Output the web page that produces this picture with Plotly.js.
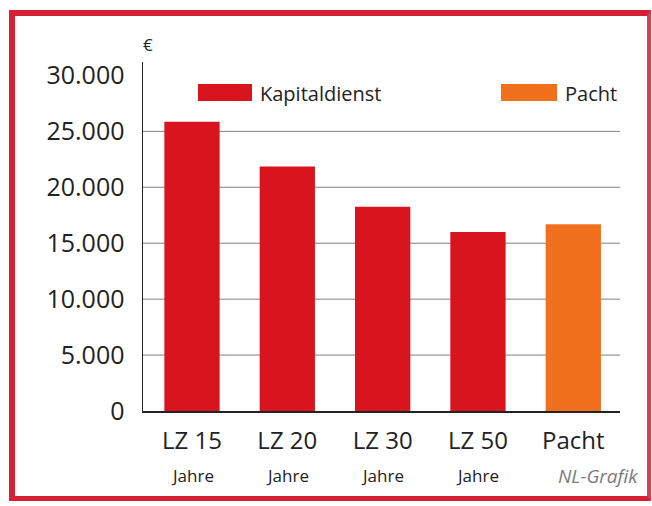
<!DOCTYPE html>
<html>
<head>
<meta charset="utf-8">
<script src="https://cdn.plot.ly/plotly-3.0.1.min.js"></script>
<style>
  html, body { margin: 0; padding: 0; background: #ffffff; }
  #wrap { position: relative; width: 652px; height: 506px; }
  #chart { width: 652px; height: 506px; }
  #frame { position: absolute; left: 9px; top: 10px; width: 632px; height: 480px;
           border-left: 6px solid #d52035; border-top: 6px solid #d52035;
           border-right: 4px solid #d84050; border-bottom: 5px solid #d52035;
           pointer-events: none; }
</style>
</head>
<body>
<div id="wrap">
  <div id="chart"></div>
  <div id="frame"></div>
</div>
<script>
// Data
const categories = ["LZ 15", "LZ 20", "LZ 30", "LZ 50", "Pacht"];
const subLabels = ["Jahre", "Jahre", "Jahre", "Jahre", ""];
const kapitaldienstCats = ["LZ 15", "LZ 20", "LZ 30", "LZ 50"];
const kapitaldienstValues = [25850, 21850, 18250, 16000];
const pachtCats = ["Pacht"];
const pachtValues = [16700];
const yTickVals = [0, 5000, 10000, 15000, 20000, 25000, 30000];
const yTickText = ["0", "5.000", "10.000", "15.000", "20.000", "25.000", "30.000"];
const gridVals = [5000, 10000, 15000, 20000, 25000];
const legendNames = ["Kapitaldienst", "Pacht"];

const RED = "#d8151f";
const ORANGE = "#f0701e";
const FONT = "Open Sans, Liberation Sans, sans-serif";

const traces = [
  { type: "bar", name: legendNames[0], x: kapitaldienstCats, y: kapitaldienstValues,
    marker: { color: RED }, showlegend: false, hoverinfo: "x+y" },
  { type: "bar", name: legendNames[1], x: pachtCats, y: pachtValues,
    marker: { color: ORANGE }, showlegend: false, hoverinfo: "x+y" }
];

const annotations = [];
subLabels.forEach((t, i) => {
  if (!t) return;
  annotations.push({ x: categories[i], y: -0.185, xref: "x", yref: "paper",
    text: t, showarrow: false, xanchor: "center", yanchor: "middle",
    font: { family: FONT, size: 17, color: "#222222" } });
});
annotations.push({ x: 1.042, y: -0.185, xref: "paper", yref: "paper",
  text: "<i>NL-Grafik</i>", showarrow: false, xanchor: "right", yanchor: "middle",
  font: { family: FONT, size: 19, color: "#7a7a7a" } });
annotations.push({ x: 0.0105, y: 1.049, xref: "paper", yref: "paper",
  text: "€", showarrow: false, xanchor: "center", yanchor: "middle",
  font: { family: FONT, size: 17, color: "#222222" } });
annotations.push({ x: 0.241, y: 0.911, xref: "paper", yref: "paper",
  text: legendNames[0], showarrow: false, xanchor: "left", yanchor: "middle",
  font: { family: FONT, size: 20, color: "#222222" } });
annotations.push({ x: 0.8805, y: 0.911, xref: "paper", yref: "paper",
  text: legendNames[1], showarrow: false, xanchor: "left", yanchor: "middle",
  font: { family: FONT, size: 20, color: "#222222" } });

const shapes = [
  { type: "rect", xref: "paper", yref: "paper", x0: 0.1153, x1: 0.2285, y0: 0.888, y1: 0.937,
    fillcolor: RED, line: { width: 0 } },
  { type: "rect", xref: "paper", yref: "paper", x0: 0.7505, x1: 0.868, y0: 0.888, y1: 0.937,
    fillcolor: ORANGE, line: { width: 0 } }
];
gridVals.forEach(v => {
  shapes.push({ type: "line", xref: "paper", yref: "y", x0: 0, x1: 1, y0: v, y1: v,
    layer: "below", line: { color: "#808080", width: 1 } });
});

const layout = {
  width: 652, height: 506,
  margin: { l: 143, r: 32, t: 62, b: 95 },
  paper_bgcolor: "#ffffff", plot_bgcolor: "#ffffff",
  barmode: "overlay", bargap: 0.42,
  font: { family: FONT, color: "#222222" },
  xaxis: {
    type: "category", categoryorder: "array", categoryarray: categories,
    range: [-0.514, 4.49], showgrid: false, zeroline: false,
    showline: true, linecolor: "#222222", linewidth: 1.5,
    ticks: "", tickfont: { family: FONT, size: 24, color: "#222222" },
    ticklabelstandoff: 8, fixedrange: true
  },
  yaxis: {
    range: [0, 31200], tickvals: yTickVals, ticktext: yTickText,
    showgrid: false, zeroline: false,
    showline: true, linecolor: "#222222", linewidth: 1.5,
    ticks: "", tickfont: { family: FONT, size: 25, color: "#222222" },
    ticklabelstandoff: 12, fixedrange: true
  },
  annotations: annotations,
  shapes: shapes,
  showlegend: false
};

Plotly.newPlot("chart", traces, layout, { displayModeBar: false, staticPlot: true });
</script>
</body>
</html>
